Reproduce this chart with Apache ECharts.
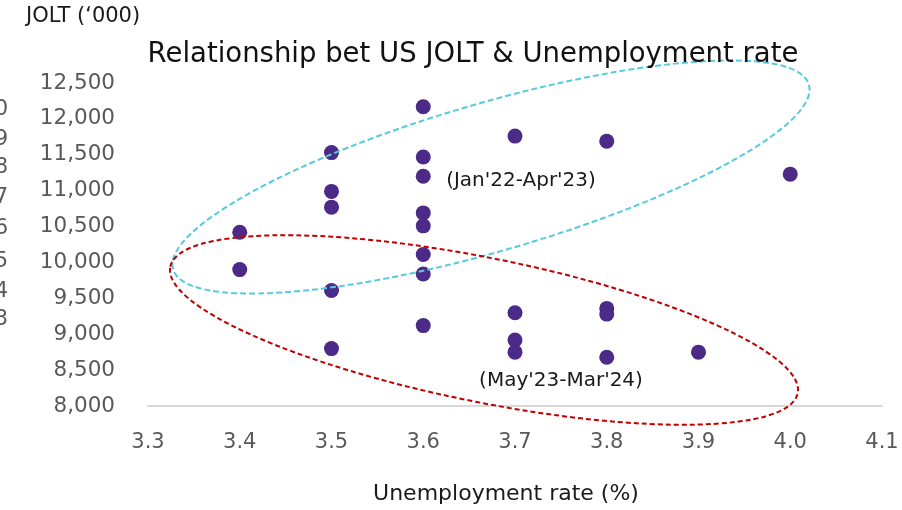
<!DOCTYPE html>
<html>
<head>
<meta charset="utf-8">
<script src="https://cdn.jsdelivr.net/npm/echarts@6/dist/echarts.min.js"></script>
<style>
html,body{margin:0;padding:0;background:#fff;}
#c{width:902px;height:510px;}
</style>
</head>
<body>
<div id="c"></div>
<script>
// Unemployment rate (%) for each month
var unemployment = [3.4, 3.4,
  3.5, 3.5, 3.5, 3.5, 3.5,
  3.6, 3.6, 3.6, 3.6, 3.6, 3.6, 3.6, 3.6,
  3.7, 3.7, 3.7, 3.7,
  3.8, 3.8, 3.8, 3.8,
  3.9,
  4.0];
// JOLT openings ('000)
var jolts = [10420, 9900,
  11530, 10990, 10770, 9610, 8800,
  12170, 11470, 11200, 10690, 10510, 10110, 9840, 9120,
  11760, 9300, 8920, 8750,
  11690, 9360, 9280, 8680,
  8750,
  11230];
var xTicks = ['3.3','3.4','3.5','3.6','3.7','3.8','3.9','4.0','4.1'];
var yTicks = ['8,000','8,500','9,000','9,500','10,000','10,500','11,000','11,500','12,000','12,500'];
var leftClipped = ['10','9','8','7','6','5','4','3'];
var titleText = 'Relationship bet US JOLT & Unemployment rate';
var yName = 'JOLT (\u2018000)';
var xName = 'Unemployment rate (%)';
var groupLabels = ["(Jan'22-Apr'23)", "(May'23-Mar'24)"];

var points = unemployment.map(function(x, i){ return [x, jolts[i]]; });

var FONT = '"DejaVu Sans", "Noto Sans", sans-serif';
var chart = echarts.init(document.getElementById('c'), null, {renderer:'canvas'});
var deg = Math.PI/180;
var graphics = [
  {type:'text', left:26, top:6, style:{text:yName, fontFamily:FONT, fontSize:21, fill:'#1a1a1a'}},
  {type:'ellipse', x:491, y:177, rotation:16.2*deg, shape:{cx:0, cy:0, rx:331, ry:74},
   style:{fill:'none', stroke:'#55cbdc', lineWidth:2, lineDash:[6,3]}, z:5},
  {type:'ellipse', x:484, y:330, rotation:-11.4*deg, shape:{cx:0, cy:0, rx:320, ry:72},
   style:{fill:'none', stroke:'#c00000', lineWidth:2, lineDash:[5,3]}, z:5},
  {type:'text', x:521, y:181, style:{text:groupLabels[0], fontFamily:FONT, fontSize:20, fill:'#1a1a1a', textAlign:'center', textVerticalAlign:'middle'}, z:6},
  {type:'text', x:561, y:381, style:{text:groupLabels[1], fontFamily:FONT, fontSize:20, fill:'#1a1a1a', textAlign:'center', textVerticalAlign:'middle'}, z:6}
];
var clipY = [110, 140, 168, 198, 229, 262, 292, 320];
leftClipped.forEach(function(t, i){
  graphics.push({type:'text', x:8, y:clipY[i], style:{text:t, fontFamily:FONT, fontSize:21, fill:'#595959', textAlign:'right', textVerticalAlign:'middle'}});
});

chart.setOption({
  animation:false,
  backgroundColor:'#ffffff',
  title:{text:titleText, left:468, top:36, textAlign:'center',
    textStyle:{fontFamily:FONT, fontSize:27.5, fontWeight:'normal', color:'#111111'}},
  grid:{left:148, right:20, top:83, bottom:101, containLabel:false},
  xAxis:{type:'value', min:3.3, max:4.1, interval:0.1,
    name:xName, nameLocation:'middle', nameGap:77,
    nameTextStyle:{fontFamily:FONT, fontSize:22, color:'#1a1a1a', padding:[0,18,0,0]},
    axisLine:{show:true, lineStyle:{color:'#d9d9d9', width:2}},
    axisTick:{show:false}, splitLine:{show:false},
    axisLabel:{margin:26, fontFamily:FONT, fontSize:21, color:'#595959',
      formatter:function(v){ var s=v.toFixed(1); return xTicks.indexOf(s)>=0 ? s : ''; }}
  },
  yAxis:{type:'value', min:8000, max:12500, interval:500,
    axisLine:{show:false}, axisTick:{show:false}, splitLine:{show:false},
    axisLabel:{margin:33, fontFamily:FONT, fontSize:21.5, color:'#595959',
      formatter:function(v){ var i=Math.round((v-8000)/500); return yTicks[i]||''; }}
  },
  series:[{type:'scatter', data:points, symbol:'circle', symbolSize:15,
    itemStyle:{color:'#4b2a88', opacity:1}, z:3}],
  graphic:graphics
});
</script>
</body>
</html>
